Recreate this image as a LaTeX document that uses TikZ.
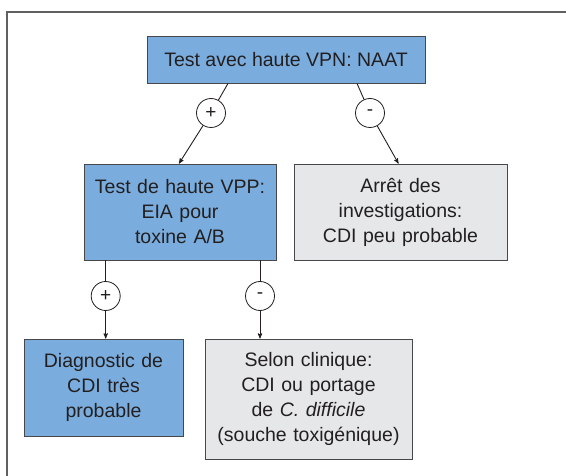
\documentclass[tikz,border=0pt]{standalone}
\usepackage{fontspec}
\setmainfont{Liberation Sans}
\usepackage{xcolor}
\usepackage{tikz}
\usetikzlibrary{arrows}

\definecolor{boxblue}{RGB}{122,173,222}
\definecolor{boxgray}{RGB}{230,231,233}
\definecolor{edgegray}{RGB}{70,72,76}
\definecolor{txtdark}{RGB}{35,31,32}

\begin{document}
\begin{tikzpicture}[->,>=stealth',x=1pt,y=-1pt,
    font=\fontsize{19.5}{25}\selectfont,text=txtdark,
    bluebox/.style={draw=edgegray,fill=boxblue,line width=0.9pt,align=center,inner sep=0pt},
    graybox/.style={draw=edgegray,fill=boxgray,line width=0.9pt,align=center,inner sep=0pt},
    result/.style={circle,draw=txtdark,fill=white,line width=0.8pt,minimum size=29pt,inner sep=0pt,font=\fontsize{19}{19}\selectfont},
    link/.style={draw=txtdark,line width=0.9pt}]
    \useasboundingbox (0,0) rectangle (566,476);
    \draw[-,draw=gray!75!black,line width=1.6pt] (7,476) -- (7,12) -- (566,12);

    \node[bluebox,minimum width=278pt,minimum height=47pt] (naat) at (286,59.5) {Test avec haute VPN: NAAT};
    \node[result] (pos1) at (211,113) {+};
    \node[result] (neg1) at (370,113) {-};
    \node[bluebox,text width=192pt,minimum height=96pt] (eia) at (180,212) {Test de haute VPP:\\EIA pour\\toxine A/B};
    \node[graybox,text width=213pt,minimum height=96pt] (arret) at (400.5,212) {Arrêt des\\investigations:\\CDI peu probable};
    \node[result] (pos2) at (105.7,296) {+};
    \node[result] (neg2) at (260,296) {-};
    \node[bluebox,text width=159pt,minimum height=97pt] (diag) at (103.5,387.5) {Diagnostic de\\CDI très\\probable};
    \node[graybox,text width=207pt,minimum height=120pt] (selon) at (308.5,399) {Selon clinique:\\CDI ou portage\\de \textit{C. difficile}\\(souche toxigénique)};

    \draw[-,link] ([xshift=-58pt]naat.south) -- (pos1);
    \draw[link] (pos1) -- ([xshift=-1pt]eia.north);
    \draw[-,link] ([xshift=71pt]naat.south) -- (neg1);
    \draw[link] (neg1) -- ([xshift=-2pt]arret.north);
    \draw[-,link] (eia.south -| pos2) -- (pos2);
    \draw[link] (pos2) -- (pos2 |- diag.north);
    \draw[-,link] (eia.south -| neg2) -- (neg2);
    \draw[link] (neg2) -- (neg2 |- selon.north);
\end{tikzpicture}
\end{document}
